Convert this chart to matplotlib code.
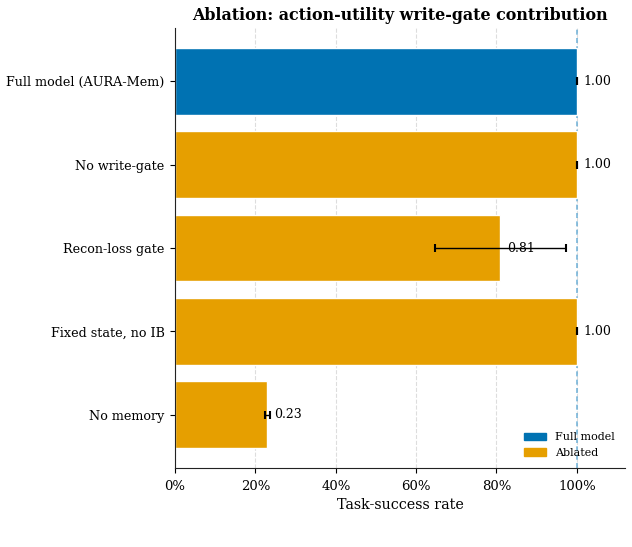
import matplotlib
matplotlib.use("Agg")
import matplotlib.pyplot as plt
import numpy as np

categories = ["Full model (AURA-Mem)", "No write-gate", "Recon-loss gate", "Fixed state, no IB", "No memory"]
values = [1.00, 1.00, 0.81, 1.00, 0.23]
errors = [0.0, 0.0, 0.163, 0.0, 0.007]
is_full = [True, False, False, False, False]
xticks = [0, 0.2, 0.4, 0.6, 0.8, 1.0]
xtick_labels = ["0%", "20%", "40%", "60%", "80%", "100%"]

plt.rcParams['font.family'] = ['DejaVu Serif']
fig = plt.figure(figsize=(6.32, 5.47), dpi=100)
ax = fig.add_axes([0.277, 0.1444, 0.712, 0.8044])

blue = "#0072B2"
orange = "#E69F00"
colors = [blue if f else orange for f in is_full]
y = np.arange(len(categories))
ax.barh(y, values, height=0.8, color=colors, edgecolor="white", linewidth=1, zorder=2)
ax.errorbar(values, y, xerr=errors, fmt="none", ecolor="black", elinewidth=1,
            capsize=3, capthick=1.5, zorder=3)
for yi, v, e in zip(y, values, errors):
    ax.text(v + 0.016, yi, f"{v:.2f}", va="center", ha="left", fontsize=9, zorder=4)

ax.axvline(1.0, color="#6aaed6", linestyle=(0, (3, 2)), linewidth=1.2, alpha=0.9, zorder=1)
ax.set_yticks(y)
ax.set_yticklabels(categories, fontsize=9.2)
ax.invert_yaxis()
ax.set_xlim(0, 1.12)
ax.set_xticks(xticks)
ax.set_xticklabels(xtick_labels, fontsize=9.5)
ax.tick_params(axis="x", pad=5)
ax.tick_params(axis="y", pad=4)
ax.set_xlabel("Task-success rate", fontsize=10.3, labelpad=3.5)
ax.set_title("Ablation: action-utility write-gate contribution", fontsize=11.4, fontweight="bold")
ax.grid(axis="x", linestyle="--", color="#dddddd", linewidth=0.8, zorder=0)
ax.set_axisbelow(True)
for s in ["top", "right"]:
    ax.spines[s].set_visible(False)
for s in ["left", "bottom"]:
    ax.spines[s].set_color("#222222")

from matplotlib.patches import Patch
handles = [Patch(color=blue, label="Full model"), Patch(color=orange, label="Ablated")]
ax.legend(handles=handles, loc="lower right", frameon=False, fontsize=8)

fig.savefig("out.png", dpi=100)
